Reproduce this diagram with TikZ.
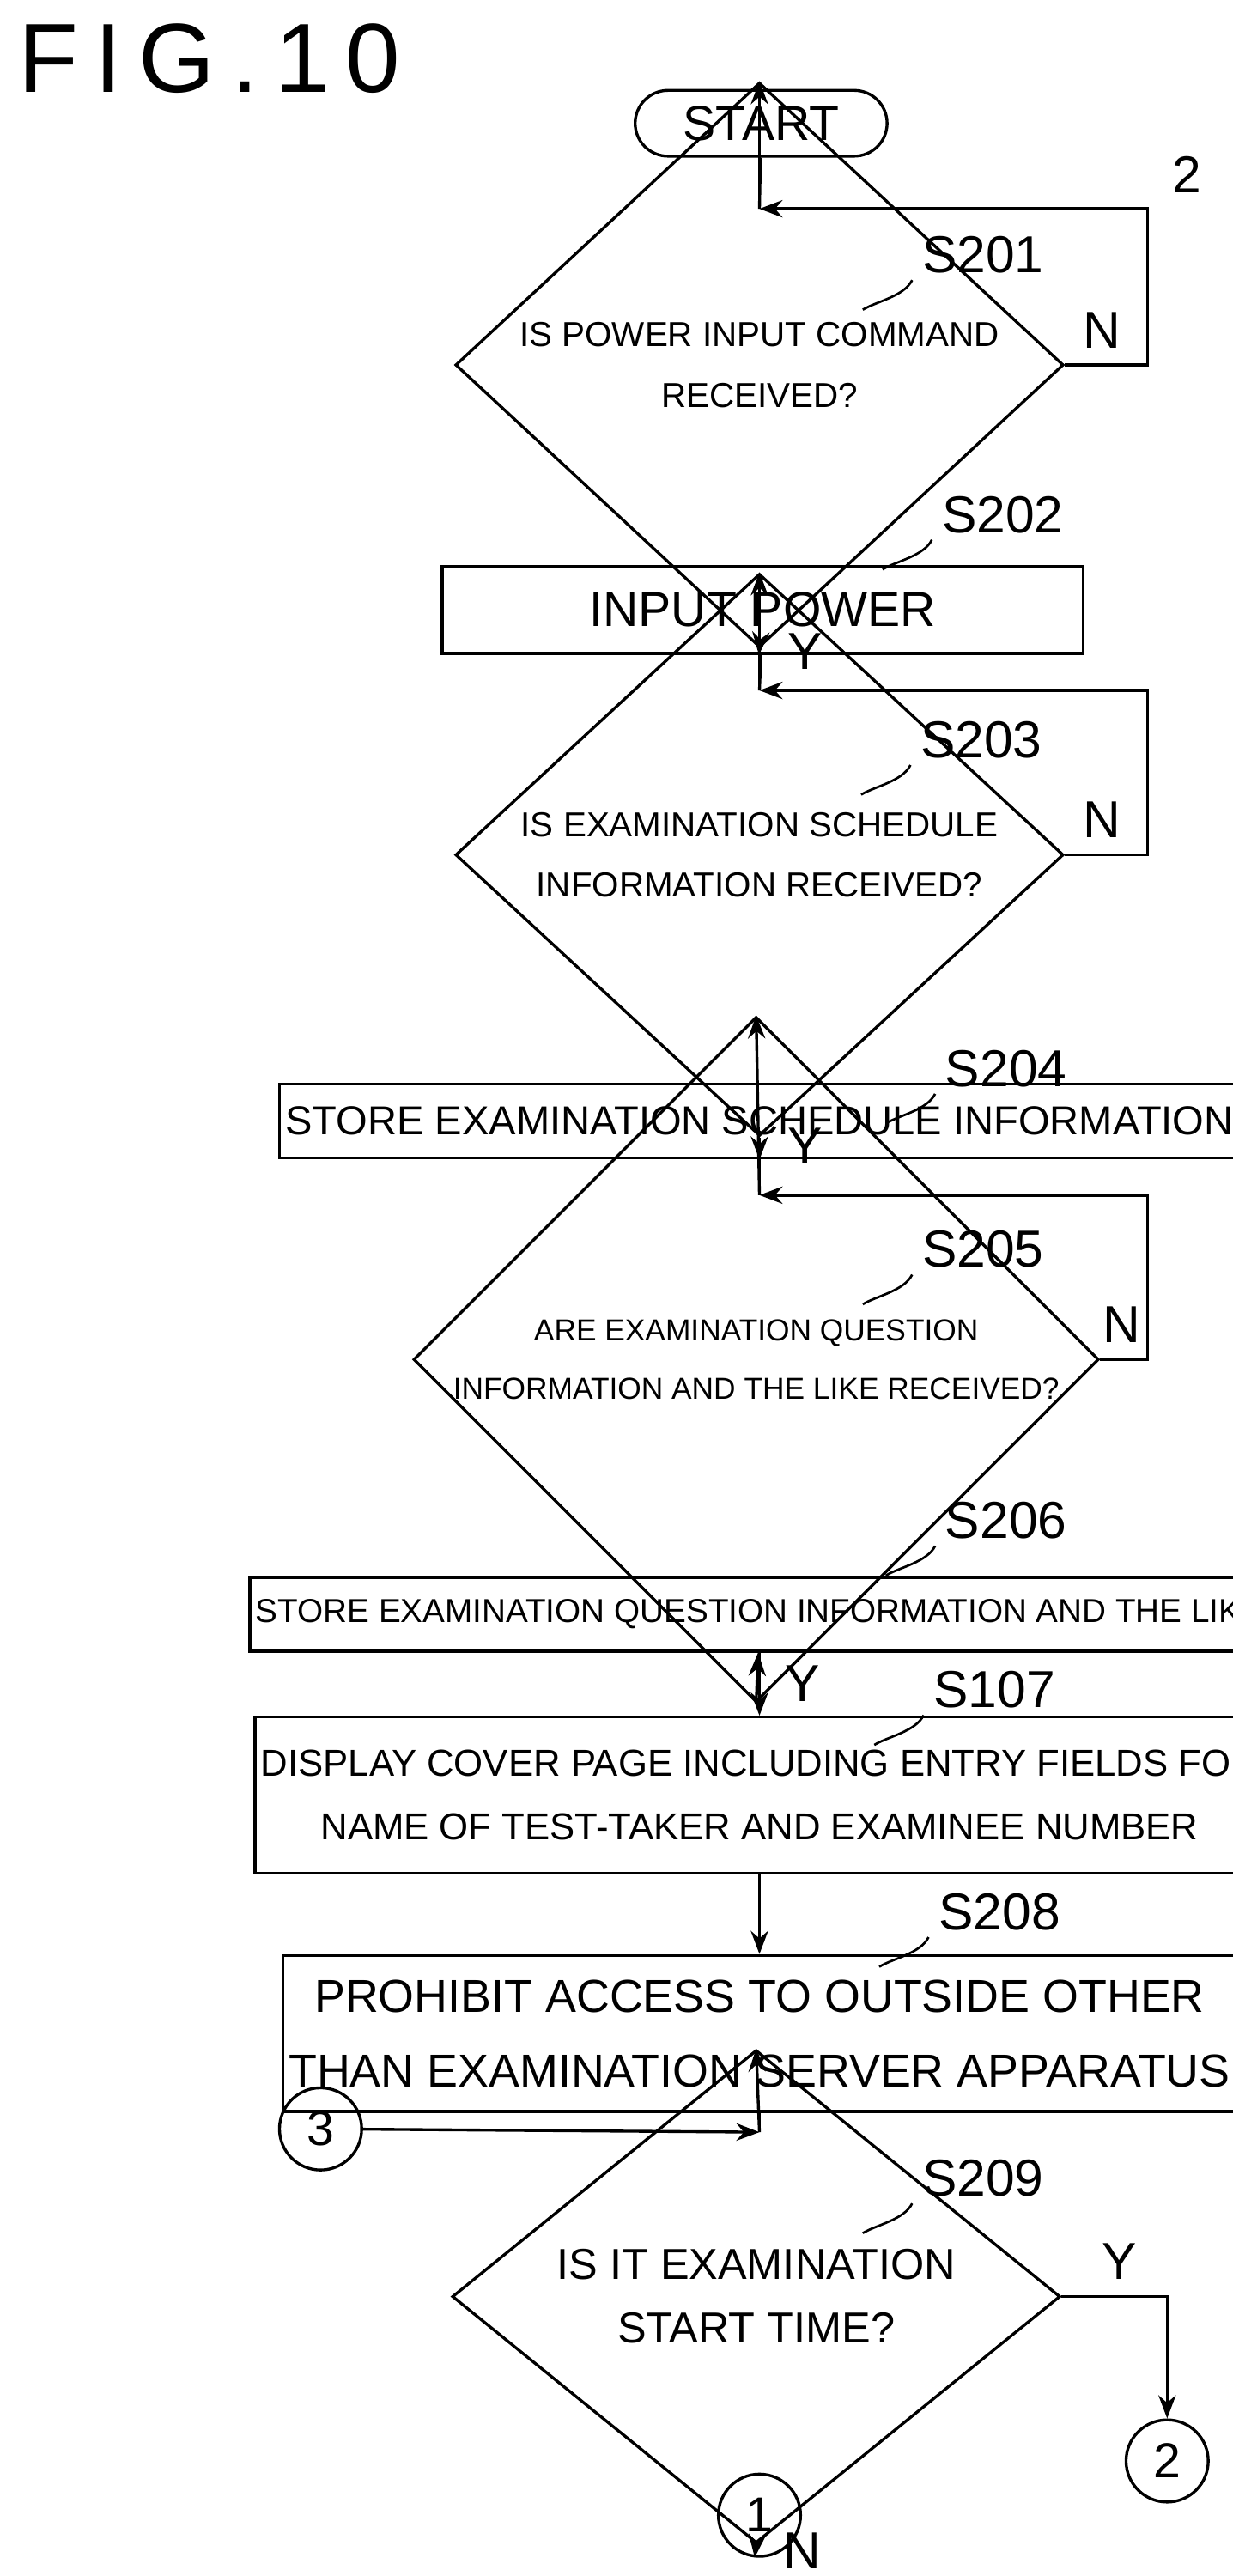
\documentclass[tikz,border=0pt]{standalone}
\usepackage{fontspec}
\setmainfont{Liberation Sans}
\usetikzlibrary{shapes.geometric,shapes.misc,arrows.meta}
\tikzset{
  flow/.style={-{Stealth[length=8pt,width=6pt]}, line width=1pt},
  proc/.style={draw, line width=1pt, minimum width=7.8cm, align=center, inner sep=2pt},
  ask/.style={draw, diamond, line width=1pt, minimum width=7.4cm, minimum height=2.76cm, inner sep=0pt, align=center, font=\fontsize{12}{15}\selectfont},
  conn/.style={draw, circle, line width=1pt, minimum size=1cm, font=\fontsize{17}{17}\selectfont},
  tag/.style={font=\fontsize{18}{18}\selectfont},
}
\begin{document}
\begin{tikzpicture}[x=0.02cm, y=-0.02cm]
  \useasboundingbox (0,0) rectangle (750,1567);
  \node[anchor=north west, font=\fontsize{34}{34}\selectfont] (fig) at (5,8) {F\,I\,G\,.\,1\,0};
  \node[draw, rounded rectangle, line width=1pt, minimum width=3.3cm, minimum height=0.8cm, font=\fontsize{17}{17}\selectfont] (start) at (463,75) {START};
  \node[tag] (two) at (722,108) {\underline{2}};
  % decisions and steps
  \node[ask] (s201) at (462,222) {IS POWER INPUT COMMAND\\[6pt]RECEIVED?};
  \node[proc, minimum height=1.06cm, font=\fontsize{17}{17}\selectfont] (s202) at (464,371) {INPUT POWER};
  \node[ask] (s203) at (462,520) {IS EXAMINATION SCHEDULE\\[6pt]INFORMATION RECEIVED?};
  \node[proc, minimum width=7.74cm, minimum height=0.9cm, font=\fontsize{14}{14}\selectfont] (s204) at (462,682) {STORE EXAMINATION SCHEDULE INFORMATION};
  \node[ask, font=\fontsize{10.5}{14}\selectfont] (s205) at (460,827) {ARE EXAMINATION QUESTION\\[6pt]INFORMATION AND THE LIKE RECEIVED?};
  \node[proc, minimum width=7.74cm, minimum height=0.9cm, font=\fontsize{11.5}{14}\selectfont] (s206) at (462,982) {STORE EXAMINATION QUESTION INFORMATION AND THE LIKE};
  \node[proc, minimum width=7.9cm, minimum height=1.9cm, font=\fontsize{13}{22}\selectfont] (s107) at (462,1092) {DISPLAY COVER PAGE INCLUDING ENTRY FIELDS FOR\\NAME OF TEST-TAKER AND EXAMINEE NUMBER};
  \node[proc, minimum width=7.9cm, minimum height=1.9cm, font=\fontsize{16}{26}\selectfont] (s208) at (462,1237) {PROHIBIT ACCESS TO OUTSIDE OTHER\\THAN EXAMINATION SERVER APPARATUS};
  \node[ask, minimum width=7.4cm, font=\fontsize{15}{22}\selectfont] (s209) at (460,1397) {IS IT EXAMINATION\\START TIME?};
  \node[conn] (c3) at (195,1295) {3};
  \node[conn] (c2) at (710,1497) {2};
  \node[conn] (c1) at (462,1530) {1};
  % step tags with leaders
  \foreach \t/\x/\y/\s in {t201/598/155/S201, t202/610/313/S202, t203/597/450/S203, t204/612/650/S204, t205/598/760/S205, t206/612/925/S206, t107/605/1028/S107, t208/608/1163/S208, t209/598/1325/S209}{
    \node[tag] (\t) at (\x,\y) {\s};
    \draw[line width=0.8pt] (\t.south west) ++(0,-2) .. controls +(-5,10) and +(8,-5) .. +(-30,18);
  }
  % main line
  \coordinate (m1) at (462,127);
  \coordinate (m3) at (462,420);
  \coordinate (m5) at (462,727);
  \coordinate (m9) at (462,1297);
  \draw[line width=1pt] (start) -- (m1);
  \draw[flow] (m1) -- (s201.north);
  \draw[flow] (s201.south) -- node[tag, right=6pt, pos=0.4] {Y} (s202);
  \draw[line width=1pt] (s202) -- (m3);
  \draw[flow] (m3) -- (s203.north);
  \draw[flow] (s203.south) -- node[tag, right=6pt, pos=0.4] {Y} (s204);
  \draw[line width=1pt] (s204) -- (m5);
  \draw[flow] (m5) -- (s205.north);
  \draw[flow] (s205.south) -- node[tag, right=6pt, pos=0.4] {Y} (s206);
  \draw[flow] (s206) -- (s107);
  \draw[flow] (s107) -- (s208);
  \draw[line width=1pt] (s208) -- (m9);
  \draw[flow] (m9) -- (s209.north);
  \draw[flow] (c3) -- (m9);
  % loops
  \draw[flow] (s201.east) -- node[tag, above=2pt, pos=0.45] {N} (698,222) |- (m1);
  \draw[flow] (s203.east) -- node[tag, above=2pt, pos=0.45] {N} (698,520) |- (m3);
  \draw[flow] (s205.east) -- node[tag, above=2pt, pos=0.45] {N} (698,827) |- (m5);
  \draw[flow] (s209.east) -- node[tag, above=2pt, pos=0.55] {Y} (710,1397) -- (c2);
  \draw[flow] (s209.south) -- node[tag, right=6pt, pos=0.5] {N} (c1);
\end{tikzpicture}
\end{document}
